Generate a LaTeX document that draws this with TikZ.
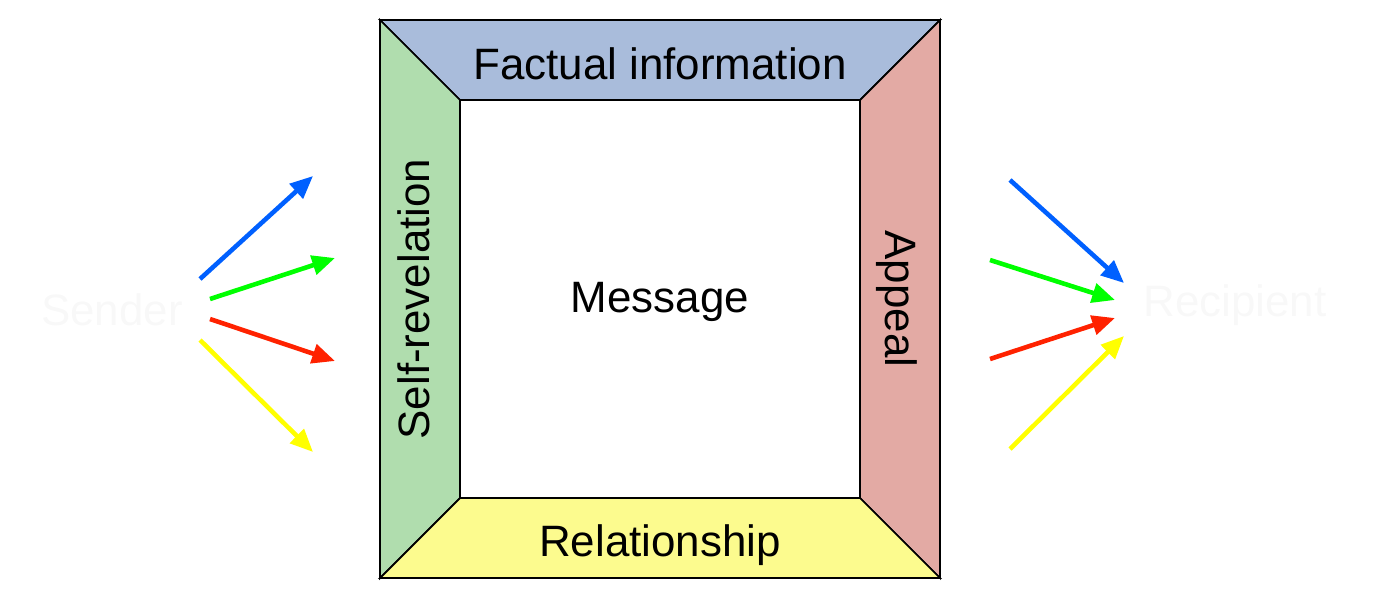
\documentclass[tikz,border=0pt]{standalone}
\usepackage{fontspec}
\setmainfont{Liberation Sans}
\usetikzlibrary{arrows.meta}
\definecolor{ctop}{HTML}{A9BCDB}
\definecolor{cleft}{HTML}{B0DDAE}
\definecolor{cright}{HTML}{E3AAA4}
\definecolor{cbot}{HTML}{FCFB8E}
\definecolor{ablue}{HTML}{0060FF}
\definecolor{agreen}{HTML}{00FF00}
\definecolor{ared}{HTML}{FF2200}
\definecolor{ayellow}{HTML}{FFFF00}
\definecolor{faint}{HTML}{F8F8F8}
\begin{document}
\begin{tikzpicture}[x=0.02cm,y=-0.02cm,
  arr/.style={line width=2.6pt,-{Triangle[length=13pt,width=11pt]}},
  lbl/.style={font=\fontsize{25}{30}\selectfont,inner sep=0}]
\useasboundingbox (0,0) rectangle (1400,600);
\filldraw[fill=ctop,line width=1pt] (380,20) -- (940,20) -- (860,100) -- (460,100) -- cycle;
\filldraw[fill=cleft,line width=1pt] (380,20) -- (460,100) -- (460,498) -- (380,578) -- cycle;
\filldraw[fill=cright,line width=1pt] (940,20) -- (940,578) -- (860,498) -- (860,100) -- cycle;
\filldraw[fill=cbot,line width=1pt] (380,578) -- (460,498) -- (860,498) -- (940,578) -- cycle;
\draw[line width=1pt] (460,100) rectangle (860,498);
\node[lbl] (fi) at (660,64) {Factual information};
\node[lbl,rotate=90] (sr) at (414,299) {Self-revelation};
\node[lbl,rotate=-90] (ap) at (897,299) {Appeal};
\node[lbl] (rel) at (660,545) {Relationship};
\node[lbl] (msg) at (660,302) {Message};
\node[lbl,text=faint] (snd) at (112,310) {Sender};
\node[lbl,text=faint] (rcp) at (1235,305) {Recipient};
\coordinate (s1) at (200,279); \coordinate (e1) at (313,176);
\coordinate (s2) at (210,299); \coordinate (e2) at (335,258);
\coordinate (s3) at (210,319); \coordinate (e3) at (335,361);
\coordinate (s4) at (200,340); \coordinate (e4) at (313,452);
\draw[arr,ablue] (s1) -- (e1);
\draw[arr,agreen] (s2) -- (e2);
\draw[arr,ared] (s3) -- (e3);
\draw[arr,ayellow] (s4) -- (e4);
\coordinate (r1) at (1010,180); \coordinate (f1) at (1124,283);
\coordinate (r2) at (990,260); \coordinate (f2) at (1115,300);
\coordinate (r3) at (990,359); \coordinate (f3) at (1115,318);
\coordinate (r4) at (1010,449); \coordinate (f4) at (1124,336);
\draw[arr,ablue] (r1) -- (f1);
\draw[arr,agreen] (r2) -- (f2);
\draw[arr,ared] (r3) -- (f3);
\draw[arr,ayellow] (r4) -- (f4);
\end{tikzpicture}
\end{document}
